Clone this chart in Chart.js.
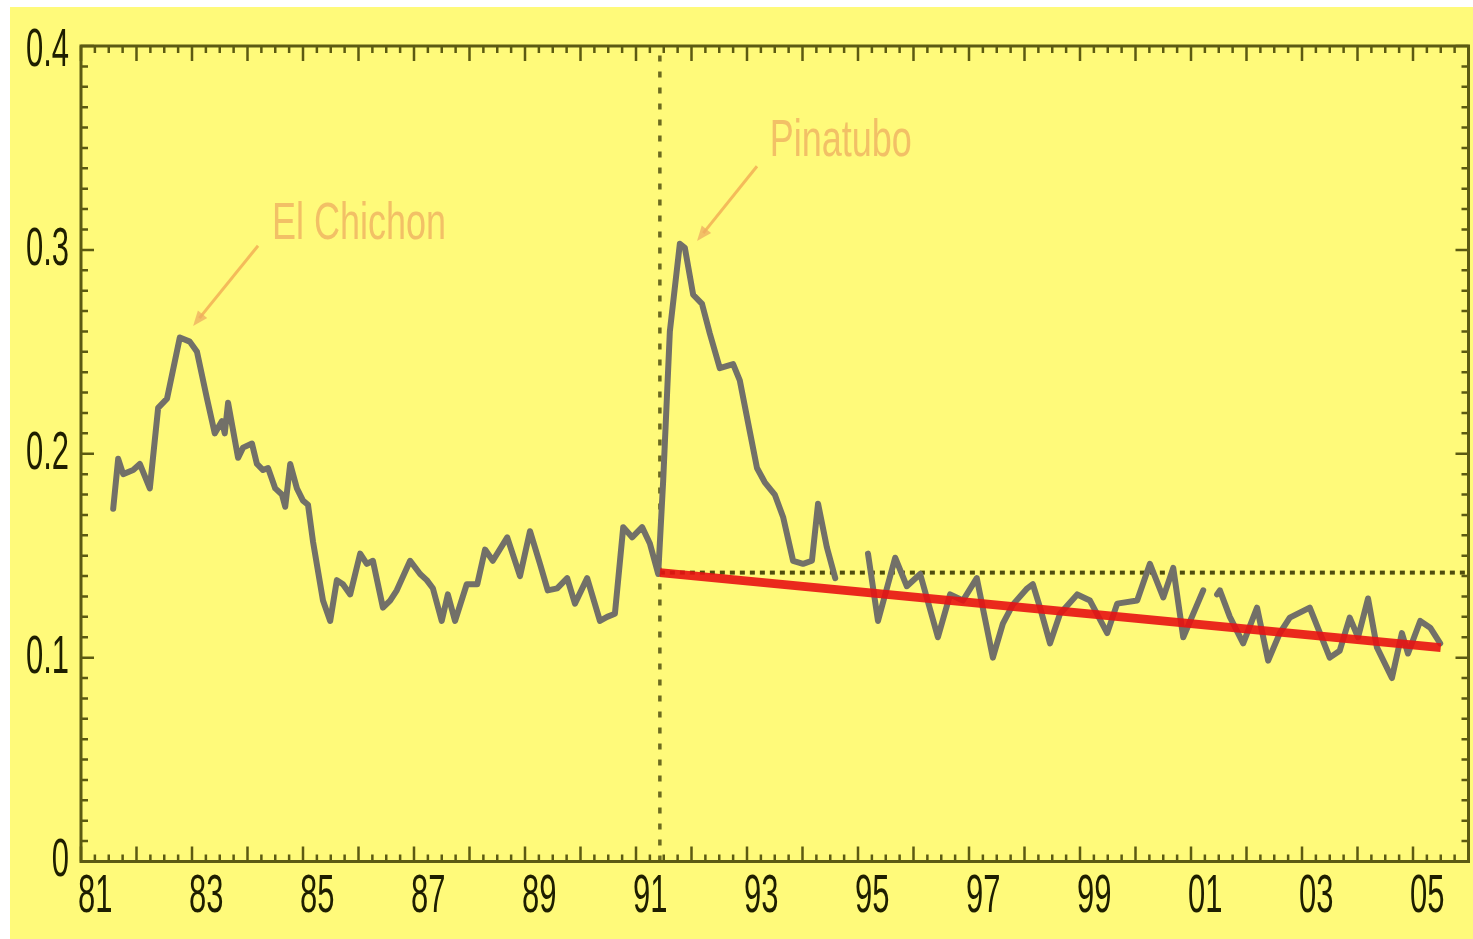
<!DOCTYPE html>
<html>
<head>
<meta charset="utf-8">
<script src="https://cdn.jsdelivr.net/npm/chart.js@4.4.1/dist/chart.umd.min.js"></script>
<style>
  html, body { margin: 0; padding: 0; background: #ffffff; }
  #wrap { position: absolute; left: 10px; top: 7px; width: 1463px; height: 932px; background: #fffa7a; }
</style>
</head>
<body>
<div id="wrap"><canvas id="aerosolChart"></canvas></div>
<script>
// values: decimal year and optical depth, null = gap in the record
var years = [
  1981.58, 1981.67, 1981.76, 1981.94, 1982.06, 1982.24, 1982.39, 1982.55, 1982.78, 1982.96,
  1983.09, 1983.27, 1983.41, 1983.54, 1983.59, 1983.65, 1983.83, 1983.92, 1984.08, 1984.17,
  1984.28, 1984.37, 1984.50, 1984.62, 1984.68, 1984.77, 1984.89, 1985.00, 1985.09, 1985.18,
  1985.36, 1985.49, 1985.61, 1985.72, 1985.85, 1986.03, 1986.15, 1986.26, 1986.44, 1986.57,
  1986.69, 1986.93, 1987.11, 1987.23, 1987.34, 1987.50, 1987.61, 1987.74, 1987.95, 1988.14,
  1988.28, 1988.42, 1988.68, 1988.91, 1989.09, 1989.27, 1989.41, 1989.58, 1989.76, 1989.90,
  1990.12, 1990.35, 1990.48, 1990.62, 1990.77, 1990.93, 1991.11, 1991.25, 1991.40, 1991.49,
  1991.61, 1991.79, 1991.88, 1992.03, 1992.19, 1992.33, 1992.51, 1992.75, 1992.87, 1993.05,
  1993.18, 1993.32, 1993.50, 1993.65, 1993.83, 1994.01, 1994.17, 1994.28, 1994.44, 1994.59,
  1994.85,
  1995.18, 1995.36, 1995.67, 1995.88, 1996.12, 1996.44, 1996.66, 1996.89, 1997.14, 1997.43,
  1997.61, 1997.79, 1998.05, 1998.15, 1998.28, 1998.46, 1998.64, 1998.95, 1999.18, 1999.49,
  1999.67, 2000.03, 2000.26, 2000.50, 2000.68, 2000.86, 2001.22,
  2001.35,
  2001.47, 2001.52, 2001.70, 2001.94, 2002.19, 2002.39, 2002.60, 2002.78, 2003.14, 2003.50,
  2003.68, 2003.86, 2004.01, 2004.19, 2004.35, 2004.62, 2004.80, 2004.91, 2005.13, 2005.31,
  2005.49
];
var depth = [
  0.173, 0.1975, 0.190, 0.192, 0.195, 0.183, 0.2225, 0.227, 0.257, 0.255,
  0.250, 0.227, 0.210, 0.216, 0.210, 0.225, 0.198, 0.203, 0.205, 0.195,
  0.192, 0.193, 0.183, 0.180, 0.174, 0.195, 0.183, 0.177, 0.175, 0.157,
  0.128, 0.118, 0.138, 0.136, 0.131, 0.151, 0.146, 0.1475, 0.1245, 0.128,
  0.133, 0.1475, 0.141, 0.138, 0.134, 0.118, 0.131, 0.118, 0.136, 0.136,
  0.153, 0.1475, 0.159, 0.140, 0.162, 0.146, 0.133, 0.134, 0.139, 0.1265,
  0.139, 0.118, 0.120, 0.1215, 0.164, 0.159, 0.164, 0.156, 0.141, 0.187,
  0.260, 0.303, 0.301, 0.278, 0.2735, 0.259, 0.242, 0.244, 0.236, 0.211,
  0.193, 0.186, 0.180, 0.169, 0.1475, 0.146, 0.1475, 0.1755, 0.154, 0.139,
  null,
  0.151, 0.118, 0.149, 0.135, 0.141, 0.110, 0.131, 0.128, 0.139, 0.100,
  0.1167, 0.126, 0.134, 0.136, 0.1245, 0.107, 0.1215, 0.131, 0.128, 0.112,
  0.1265, 0.128, 0.146, 0.1295, 0.144, 0.110, 0.133,
  null,
  0.131, 0.133, 0.120, 0.107, 0.1245, 0.0985, 0.112, 0.1196, 0.1245, 0.100,
  0.1034, 0.1196, 0.110, 0.129, 0.105, 0.090, 0.112, 0.102, 0.118, 0.1147,
  0.107
];

// fitted decline after Pinatubo
var trendYears = [1991.43, 2005.5];
var trendValues = [0.1417, 0.1049];

var eruptionYear = 1991.43;
var baseLevel = 0.1417;

var xMin = 1981, xMax = 2006;
var yMin = 0, yMax = 0.4;
var xTickYears = [1981, 1983, 1985, 1987, 1989, 1991, 1993, 1995, 1997, 1999, 2001, 2003, 2005];
var xTickLabels = ['81', '83', '85', '87', '89', '91', '93', '95', '97', '99', '01', '03', '05'];
var yTickValues = [0, 0.1, 0.2, 0.3, 0.4];
var yTickLabels = ['0', '0.1', '0.2', '0.3', '0.4'];

var notes = ['El Chichon', 'Pinatubo'];
var noteYears = [1984.44, 1993.41];
var noteValues = [0.3054, 0.346];
var arrowFromYears = [1984.19, 1993.18];
var arrowFromValues = [0.302, 0.341];
var arrowToYears = [1983.02, 1992.10];
var arrowToValues = [0.2627, 0.3044];

var FONT = '"Liberation Sans", Arial, sans-serif';
var AXIS = '#5c5a12';

var series = years.map(function(y, i) { return { x: y, y: depth[i] }; });
var trend = trendYears.map(function(y, i) { return { x: y, y: trendValues[i] }; });

function stretchText(ctx, text, x, y, k, align, baseline) {
    ctx.save();
    ctx.translate(x, y);
    ctx.scale(1, k);
    ctx.textAlign = align;
    ctx.textBaseline = baseline;
    ctx.fillText(text, 0, 0);
    ctx.restore();
}

var framePlugin = {
    id: 'frame',
    afterDatasetsDraw: function(chart) {
        var ctx = chart.ctx;
        var a = chart.chartArea;
        var xs = chart.scales.x;
        var ys = chart.scales.y;

        ctx.save();
        ctx.strokeStyle = AXIS;
        ctx.lineWidth = 2.5;
        ctx.beginPath();
        // ticks on all four sides, pointing inwards
        for (var t = xMin; t <= xMax + 0.001; t += 0.25) {
            var px = xs.getPixelForValue(t);
            var major = Math.abs(t - Math.round(t)) < 0.01;
            var len = major ? 15 : 7;
            ctx.moveTo(px, a.bottom); ctx.lineTo(px, a.bottom - len);
            ctx.moveTo(px, a.top); ctx.lineTo(px, a.top + len);
        }
        for (var k = 0; k <= 40; k++) {
            var py = ys.getPixelForValue(k / 100);
            var l2 = (k % 10 === 0) ? 13 : 7;
            ctx.moveTo(a.left, py); ctx.lineTo(a.left + l2, py);
            ctx.moveTo(a.right, py); ctx.lineTo(a.right - l2, py);
        }
        ctx.stroke();

        ctx.lineWidth = 3;
        ctx.strokeRect(a.left, a.top, a.right - a.left, a.bottom - a.top);

        // tick labels
        ctx.fillStyle = '#1e1e00';
        ctx.font = '31px ' + FONT;
        xTickYears.forEach(function(yr, i) {
            stretchText(ctx, xTickLabels[i], xs.getPixelForValue(yr) - 3, a.bottom + 36, 1.75, 'left', 'middle');
        });
        yTickValues.forEach(function(v, i) {
            var py = Math.max(ys.getPixelForValue(v), a.top + 5);
            stretchText(ctx, yTickLabels[i], a.left - 12, py, 1.75, 'right', 'middle');
        });

        // volcano notes with arrows
        ctx.fillStyle = 'rgba(238, 172, 96, 0.75)';
        ctx.strokeStyle = 'rgba(240, 165, 80, 0.75)';
        ctx.font = '36px ' + FONT;
        notes.forEach(function(txt, i) {
            stretchText(ctx, txt, xs.getPixelForValue(noteYears[i]), ys.getPixelForValue(noteValues[i]), 1.45, 'left', 'alphabetic');
            var x0 = xs.getPixelForValue(arrowFromYears[i]), y0 = ys.getPixelForValue(arrowFromValues[i]);
            var x1 = xs.getPixelForValue(arrowToYears[i]), y1 = ys.getPixelForValue(arrowToValues[i]);
            var ang = Math.atan2(y1 - y0, x1 - x0);
            ctx.lineWidth = 3;
            ctx.beginPath();
            ctx.moveTo(x0, y0);
            ctx.lineTo(x1 - 10 * Math.cos(ang), y1 - 10 * Math.sin(ang));
            ctx.stroke();
            ctx.beginPath();
            ctx.moveTo(x1, y1);
            ctx.lineTo(x1 - 15 * Math.cos(ang) + 6 * Math.sin(ang), y1 - 15 * Math.sin(ang) - 6 * Math.cos(ang));
            ctx.lineTo(x1 - 15 * Math.cos(ang) - 6 * Math.sin(ang), y1 - 15 * Math.sin(ang) + 6 * Math.cos(ang));
            ctx.closePath();
            ctx.fill();
        });
        ctx.restore();
    }
};

var context = document.getElementById('aerosolChart').getContext('2d');
var myChart = new Chart(context, {
    type: 'line',
    data: {
        datasets: [{
            data: trend,
            borderColor: 'rgba(232, 18, 18, 0.9)',
            borderWidth: 9,
            order: 0
        }, {
            data: series,
            borderColor: '#727068',
            borderWidth: 6,
            borderJoinStyle: 'round',
            borderCapStyle: 'round',
            spanGaps: false,
            order: 1
        }, {
            data: [{ x: eruptionYear, y: baseLevel }, { x: xMax, y: baseLevel }],
            borderColor: '#4e4c0c',
            borderWidth: 4,
            borderDash: [5, 5],
            order: 2
        }, {
            data: [{ x: eruptionYear, y: yMin }, { x: eruptionYear, y: yMax }],
            borderColor: '#6b6920',
            borderWidth: 3.5,
            borderDash: [6, 10],
            order: 2
        }]
    },
    options: {
        responsive: true,
        maintainAspectRatio: false,
        animation: false,
        events: [],
        elements: { point: { radius: 0 }, line: { tension: 0, fill: false } },
        layout: { padding: { left: 71, top: 39, right: 4.5, bottom: 77.5 } },
        scales: {
            x: { type: 'linear', min: xMin, max: xMax, display: false },
            y: { type: 'linear', min: yMin, max: yMax, display: false }
        },
        plugins: { legend: { display: false }, tooltip: { enabled: false } }
    },
    plugins: [framePlugin]
});
</script>
</body>
</html>
